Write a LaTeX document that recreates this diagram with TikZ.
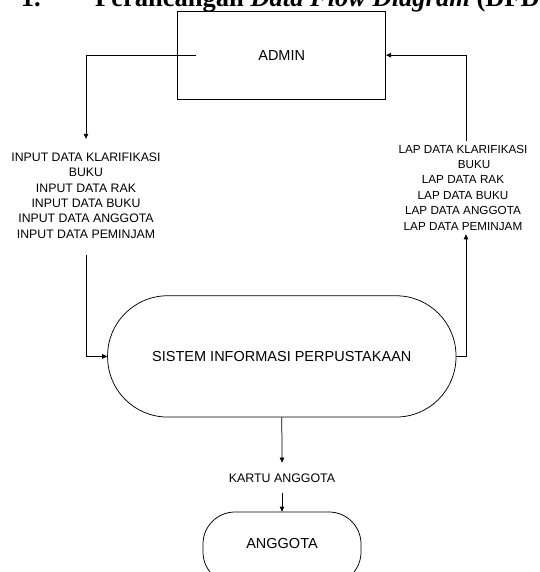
\documentclass[tikz,border=0pt]{standalone}
\usepackage{fontspec}
\setmainfont{Liberation Serif}
\newfontfamily\arialf{Liberation Sans}
\usetikzlibrary{arrows.meta}
\begin{document}
\begin{tikzpicture}[x=1pt,y=-1pt,
  conn/.style={draw=black, line width=0.75pt, -{Triangle[length=5pt,width=4.5pt]}},
  shapebox/.style={draw=black, line width=0.75pt, inner sep=0pt, font=\arialf\fontsize{14.5}{17}\selectfont},
  lbl/.style={inner sep=0pt, align=center},
  titletext/.style={inner sep=0pt, anchor=base west, font=\fontsize{26.5}{31}\selectfont\bfseries}]
\useasboundingbox (0,0) rectangle (539,572);
\clip (0,0) rectangle (539,572);
\fill[white] (0,0) rectangle (539,572);

% title (cut off at the top)
\node[titletext] (tnum) at (20.6,7) {1.};
\node[titletext] (ttitle) at (95,7) {Perancangan \textit{Data Flow Diagram} (DFD)};

% main shapes
\node[shapebox, minimum width=208pt, minimum height=87.7pt] (admin) at (281.7,55.2) {ADMIN};
\node[shapebox, rounded corners=60pt, minimum width=348.4pt, minimum height=121.3pt] (sis) at (281.8,356.4) {SISTEM INFORMASI PERPUSTAKAAN};
\node[shapebox, rounded corners=32pt, minimum width=158pt, minimum height=72pt,
      label={[yshift=4pt, inner sep=0pt, font=\arialf\fontsize{14.5}{17}\selectfont]center:ANGGOTA}] (ang) at (282,548) {};

% flow labels
\node[lbl, font=\arialf\fontsize{12.3}{15.4}\selectfont] (lab1) at (86,195.5)
  {INPUT DATA KLARIFIKASI\\BUKU\hspace*{34pt}\\INPUT DATA RAK\\INPUT DATA BUKU\\INPUT DATA ANGGOTA\\INPUT DATA PEMINJAM};
\node[lbl, font=\arialf\fontsize{11.7}{15.4}\selectfont] (lab2) at (463,187.5)
  {LAP DATA KLARIFIKASI\\\hspace*{22pt}BUKU\\LAP DATA RAK\\LAP DATA BUKU\\LAP DATA ANGGOTA\\LAP DATA PEMINJAM};
\node[lbl, font=\arialf\fontsize{12.4}{15}\selectfont] (kartu) at (282,478) {KARTU ANGGOTA};

% connectors
\coordinate (s1) at (196,55.3);
\coordinate (rx) at (466,0);
\draw[conn, shorten >=13.6pt] (s1) -| (lab1.north);
\draw[conn] ([yshift=-16.6pt]lab1.south) |- (sis.west);
\draw[conn] (sis.east) -- (sis.east -| rx) -- ([yshift=-4pt]rx |- lab2.south);
\draw[conn] ([yshift=4pt]rx |- lab2.north) -- (rx |- admin.east) -- (admin.east);
\draw[conn] (sis.south) -- ([yshift=10.8pt]kartu.north);
\draw[conn] ([yshift=-10.2pt]kartu.south) -- (ang.north);
\end{tikzpicture}
\end{document}
